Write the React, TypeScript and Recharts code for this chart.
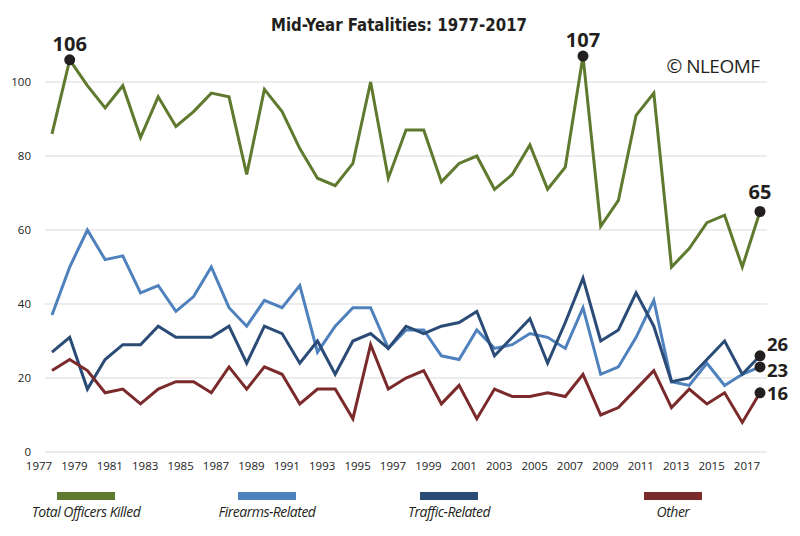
import React from 'react';
import { LineChart, Line, XAxis, YAxis, CartesianGrid, Legend, Customized } from 'recharts';

const years = [
  1977, 1978, 1979, 1980, 1981, 1982, 1983, 1984, 1985, 1986,
  1987, 1988, 1989, 1990, 1991, 1992, 1993, 1994, 1995, 1996,
  1997, 1998, 1999, 2000, 2001, 2002, 2003, 2004, 2005, 2006,
  2007, 2008, 2009, 2010, 2011, 2012, 2013, 2014, 2015, 2016, 2017,
];
const totalKilled = [
  86, 106, 99, 93, 99, 85, 96, 88, 92, 97,
  96, 75, 98, 92, 82, 74, 72, 78, 100, 74,
  87, 87, 73, 78, 80, 71, 75, 83, 71, 77,
  107, 61, 68, 91, 97, 50, 55, 62, 64, 50, 65,
];
const firearmsRelated = [
  37, 50, 60, 52, 53, 43, 45, 38, 42, 50,
  39, 34, 41, 39, 45, 27, 34, 39, 39, 28,
  33, 33, 26, 25, 33, 28, 29, 32, 31, 28,
  39, 21, 23, 31, 41, 19, 18, 24, 18, 21, 23,
];
const trafficRelated = [
  27, 31, 17, 25, 29, 29, 34, 31, 31, 31,
  34, 24, 34, 32, 24, 30, 21, 30, 32, 28,
  34, 32, 34, 35, 38, 26, 31, 36, 24, 35,
  47, 30, 33, 43, 34, 19, 20, 25, 30, 21, 26,
];
const otherCauses = [
  22, 25, 22, 16, 17, 13, 17, 19, 19, 16,
  23, 17, 23, 21, 13, 17, 17, 9, 29, 17,
  20, 22, 13, 18, 9, 17, 15, 15, 16, 15,
  21, 10, 12, 17, 22, 12, 17, 13, 16, 8, 16,
];
const xTicks = [
  1977, 1979, 1981, 1983, 1985, 1987, 1989, 1991, 1993, 1995, 1997,
  1999, 2001, 2003, 2005, 2007, 2009, 2011, 2013, 2015, 2017,
];
const yTicks = [0, 20, 40, 60, 80, 100];
const seriesNames = ['Total Officers Killed', 'Firearms-Related', 'Traffic-Related', 'Other'];
const titleText = 'Mid-Year Fatalities: 1977-2017';
const creditText = '\u00A9 NLEOMF';

// highlighted points (indices into the series)
const totalMarks = [1, 30, 40];
const lastMark = [40];

const data = years.map((year, i) => ({
  year,
  total: totalKilled[i],
  firearms: firearmsRelated[i],
  traffic: trafficRelated[i],
  other: otherCauses[i],
}));

const GREEN = '#5f7a2e';
const LIGHT = '#4f81bd';
const DARK = '#2b4b77';
const RED = '#7a2a2a';
const INK = '#231f20';

const legendLayout = [
  { key: 'total', color: GREEN, cx: 86 },
  { key: 'firearms', color: LIGHT, cx: 267 },
  { key: 'traffic', color: DARK, cx: 449 },
  { key: 'other', color: RED, cx: 673 },
];

const markDot = (marks: number[]) => (props: any) => {
  const { cx, cy, index } = props;
  if (!marks.includes(index) || cx == null || cy == null) {
    return <g key={`d-${index}`} />;
  }
  return <circle key={`d-${index}`} cx={cx} cy={cy} r={5.5} fill={INK} />;
};

const topLabel = (marks: number[]) => (props: any) => {
  const { x, y, index, value } = props;
  if (!marks.includes(index)) return null;
  const dy = index === 40 ? -13 : -9;
  return (
    <text
      key={`l-${index}`}
      x={x}
      y={y + dy}
      textAnchor="middle"
      fontFamily="'Open Sans', 'DejaVu Sans', sans-serif"
      fontWeight={700}
      fontSize={20}
      fill={INK}
    >
      {value}
    </text>
  );
};

const sideLabel = (marks: number[], shift: number) => (props: any) => {
  const { x, y, index, value } = props;
  if (!marks.includes(index)) return null;
  return (
    <text
      key={`s-${index}`}
      x={x + 7}
      y={y + shift + 7}
      textAnchor="start"
      fontFamily="'Open Sans', 'DejaVu Sans', sans-serif"
      fontWeight={700}
      fontSize={18.5}
      fill={INK}
    >
      {value}
    </text>
  );
};

const LegendContent = () => (
  <svg width={800} height={44} style={{ display: 'block' }}>
    {legendLayout.map((item, i) => (
      <g key={item.key}>
        <rect x={item.cx - 29} y={10} width={58} height={8} fill={item.color} />
        <text
          x={item.cx}
          y={35}
          textAnchor="middle"
          fontFamily="'Open Sans', 'Liberation Sans', sans-serif"
          fontStyle="italic"
          fontSize={14}
          letterSpacing={-0.5}
          fill={INK}
        >
          {seriesNames[i]}
        </text>
      </g>
    ))}
  </svg>
);

const Decorations = () => (
  <g>
    <text
      x={399}
      y={31}
      textAnchor="middle"
      fontFamily="'DejaVu Sans Condensed', sans-serif"
      fontWeight={700}
      fontSize={17.5}
      textLength={256}
      lengthAdjust="spacingAndGlyphs"
      fill={INK}
    >
      {titleText}
    </text>
    <text
      x={713}
      y={73}
      textAnchor="middle"
      fontFamily="'Open Sans', 'Liberation Sans', sans-serif"
      fontSize={19}
      letterSpacing={-0.5}
      fill={INK}
    >
      {creditText}
    </text>
  </g>
);

export default function App() {
  return (
    <div style={{ position: 'absolute', left: 0, top: 0, width: 800, height: 536, background: '#fff' }}>
      <LineChart
        width={800}
        height={536}
        data={data}
        margin={{ top: 45, right: 33, left: 0, bottom: 10 }}
      >
        <CartesianGrid vertical={false} horizontalValues={yTicks} stroke="#d9d9d9" strokeWidth={1} />
        <XAxis
          dataKey="year"
          type="category"
          ticks={xTicks}
          interval={0}
          axisLine={false}
          tickLine={false}
          padding={{ left: 7, right: 7 }}
          height={30}
          dx={-13}
          dy={2}
          tick={{ fontSize: 11.5, fill: '#222', fontFamily: "'Open Sans', 'Liberation Sans', sans-serif" }}
        />
        <YAxis
          type="number"
          domain={[0, 110]}
          ticks={yTicks}
          interval={0}
          width={45}
          axisLine={false}
          tickLine={false}
          tickMargin={8}
          tick={{ fontSize: 11.5, fill: '#222', fontFamily: "'Open Sans', 'Liberation Sans', sans-serif" }}
        />
        <Line
          type="linear"
          dataKey="total"
          name={seriesNames[0]}
          stroke={GREEN}
          strokeWidth={3}
          dot={markDot(totalMarks)}
          activeDot={false}
          label={topLabel(totalMarks)}
          isAnimationActive={false}
        />
        <Line
          type="linear"
          dataKey="firearms"
          name={seriesNames[1]}
          stroke={LIGHT}
          strokeWidth={3}
          dot={markDot(lastMark)}
          activeDot={false}
          label={sideLabel(lastMark, 3)}
          isAnimationActive={false}
        />
        <Line
          type="linear"
          dataKey="traffic"
          name={seriesNames[2]}
          stroke={DARK}
          strokeWidth={3}
          dot={markDot(lastMark)}
          activeDot={false}
          label={sideLabel(lastMark, -12)}
          isAnimationActive={false}
        />
        <Line
          type="linear"
          dataKey="other"
          name={seriesNames[3]}
          stroke={RED}
          strokeWidth={3}
          dot={markDot(lastMark)}
          activeDot={false}
          label={sideLabel(lastMark, 0)}
          isAnimationActive={false}
        />
        <Legend
          verticalAlign="bottom"
          height={44}
          wrapperStyle={{ left: 0, width: 800 }}
          content={LegendContent}
        />
        <Customized component={Decorations} />
      </LineChart>
    </div>
  );
}
